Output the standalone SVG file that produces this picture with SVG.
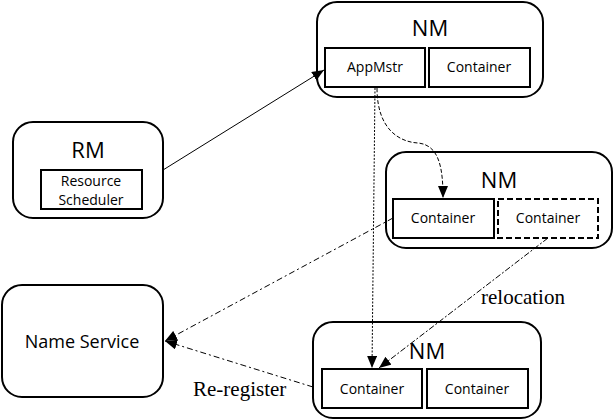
<svg xmlns="http://www.w3.org/2000/svg" width="613" height="420" viewBox="0 0 613 420">
<defs>
<marker id="arr" viewBox="0 0 12 10" refX="12" refY="5" markerWidth="12" markerHeight="10" markerUnits="userSpaceOnUse" orient="auto">
<path d="M0,0 L12,5 L0,10 z" fill="#000"/>
</marker>
<style>
.outer{fill:#fff;stroke:#000;stroke-width:2}
.inner{fill:#fff;stroke:#000;stroke-width:2}
.dash{stroke-dasharray:6,3}
.nm{font-family:"Open Sans","Noto Sans",sans-serif;font-size:22px;text-anchor:middle;fill:#000}
.lbl{font-family:"Open Sans","Noto Sans",sans-serif;font-size:14px;text-anchor:middle;fill:#000}
.ser{font-family:"Liberation Serif",serif;font-size:21px;fill:#000}
.c{fill:none;stroke:#000;stroke-width:1}
</style>
</defs>
<g id="nm-top">
<rect class="outer" x="317" y="2" width="226" height="95" rx="20"/>
<text class="nm" x="430" y="36">NM</text>
<rect class="inner" x="325" y="48" width="100" height="39"/>
<text class="lbl" x="375" y="72">AppMstr</text>
<rect class="inner" x="429" y="48" width="101" height="39"/>
<text class="lbl" x="479" y="72">Container</text>
</g>
<g id="nm-mid">
<rect class="outer" x="386" y="152" width="226" height="96" rx="20"/>
<text class="nm" x="499" y="188">NM</text>
<rect class="inner" x="393" y="199" width="101" height="39"/>
<text class="lbl" x="443" y="223">Container</text>
<rect class="inner dash" x="498" y="199" width="100" height="39"/>
<text class="lbl" x="548" y="223">Container</text>
</g>
<g id="nm-bot">
<rect class="outer" x="313" y="322" width="228" height="96" rx="20"/>
<text class="nm" x="427" y="359">NM</text>
<rect class="inner" x="322" y="369" width="100" height="39"/>
<text class="lbl" x="372" y="394">Container</text>
<rect class="inner" x="427" y="369" width="101" height="39"/>
<text class="lbl" x="477" y="394">Container</text>
</g>
<g id="rm">
<rect class="outer" x="13" y="122" width="150" height="96" rx="20"/>
<text class="nm" x="88" y="158">RM</text>
<rect class="inner" x="41" y="170" width="101" height="39"/>
<text class="lbl" x="91" y="186">Resource</text>
<text class="lbl" x="91" y="205">Scheduler</text>
</g>
<g id="name-service">
<rect class="outer" x="2" y="285" width="161" height="112" rx="20"/>
<text class="lbl" x="82" y="348" style="font-size:18px">Name Service</text>
</g>
<g id="connectors">
<line class="c" x1="163" y1="170" x2="324" y2="70" marker-end="url(#arr)"/>
<path class="c" d="M377,88 C377,130 400,142 418,143 C440,145 443,170 443,198" stroke-dasharray="4,2" marker-end="url(#arr)"/>
<line class="c" x1="375" y1="88" x2="372" y2="368" stroke-dasharray="2,1.5" marker-end="url(#arr)"/>
<line class="c" x1="548" y1="238" x2="379" y2="368" stroke-dasharray="6,2,2,2" marker-end="url(#arr)"/>
<line class="c" x1="393" y1="218" x2="165" y2="341" stroke-dasharray="6,3,2,3" marker-end="url(#arr)"/>
<line class="c" x1="313" y1="387" x2="165" y2="341" stroke-dasharray="6,3,2,3" marker-end="url(#arr)"/>
<text class="ser" x="481" y="304">relocation</text>
<text class="ser" x="193" y="396">Re-register</text>
</g>
</svg>
